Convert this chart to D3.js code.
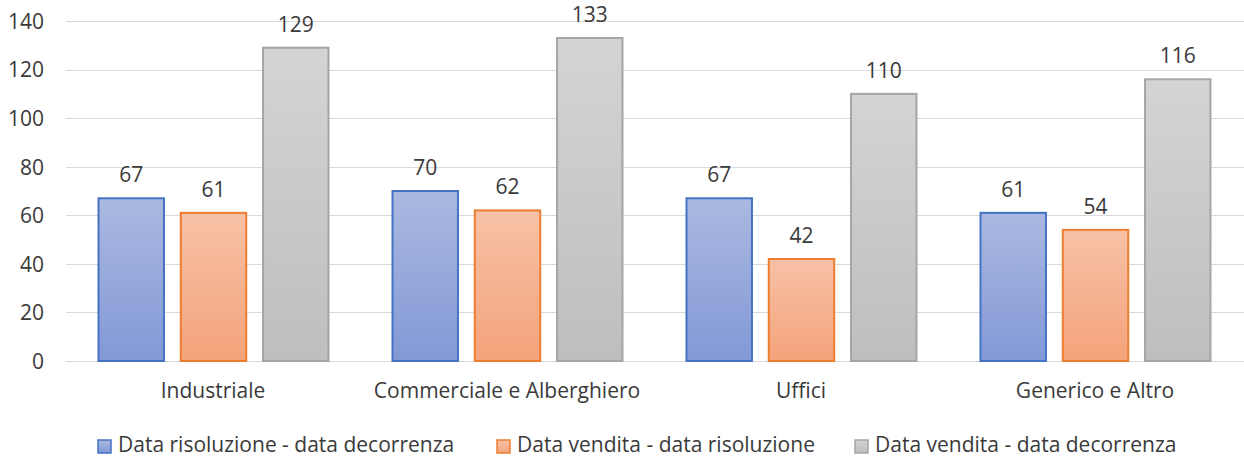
<!DOCTYPE html>
<html>
<head>
<meta charset="utf-8">
<script src="https://cdn.jsdelivr.net/npm/d3@7"></script>
<style>
  html, body { margin: 0; padding: 0; background: #fff; }
  svg { display: block; font-family: "Open Sans", Lato, sans-serif; }
</style>
</head>
<body>
<svg id="chart" width="1244" height="457"></svg>
<script>
const categories = ["Industriale", "Commerciale e Alberghiero", "Uffici", "Generico e Altro"];
const seriesNames = ["Data risoluzione - data decorrenza", "Data vendita - data risoluzione", "Data vendita - data decorrenza"];
const risoluzioneDecorrenza = [67, 70, 67, 61];
const venditaRisoluzione = [61, 62, 42, 54];
const venditaDecorrenza = [129, 133, 110, 116];
const yTicks = [0, 20, 40, 60, 80, 100, 120, 140];

const seriesValues = [risoluzioneDecorrenza, venditaRisoluzione, venditaDecorrenza];
const styles = [
  { top: "#abb9e1", bottom: "#8299d6", stroke: "#4472c4" },
  { top: "#f7c1a6", bottom: "#f4a37b", stroke: "#ed7d31" },
  { top: "#d4d4d4", bottom: "#bebebe", stroke: "#a5a5a5" }
];
const textColor = "#3a3a3a";
const fontSize = 21;

const svg = d3.select("#chart");
const margin = { left: 66, right: 0, top: 21, bottom: 96 };
const width = 1244, height = 457;

const x0 = d3.scaleBand().domain(categories).range([margin.left, width - margin.right - 2]).paddingInner(0).paddingOuter(0);
const x1 = d3.scaleBand().domain(d3.range(3)).range([31.5, x0.bandwidth() - 30.5]).paddingInner(0.18).paddingOuter(0);
const y = d3.scaleLinear().domain([0, 140]).range([height - margin.bottom, margin.top]);

// vertical gradients for the bar fills
const defs = svg.append("defs");
styles.forEach((s, i) => {
  const g = defs.append("linearGradient").attr("id", "grad" + i).attr("x1", 0).attr("y1", 0).attr("x2", 0).attr("y2", 1);
  g.append("stop").attr("offset", "0%").attr("stop-color", s.top);
  g.append("stop").attr("offset", "100%").attr("stop-color", s.bottom);
});

// horizontal gridlines
svg.append("g")
  .selectAll("line").data(yTicks).join("line")
  .attr("x1", margin.left).attr("x2", width)
  .attr("y1", d => Math.round(y(d)) + 0.5).attr("y2", d => Math.round(y(d)) + 0.5)
  .attr("stroke", "#d9d9d9").attr("stroke-width", 1);

// y axis labels
const yAxis = svg.append("g").attr("transform", `translate(${margin.left - 22},0)`)
  .call(d3.axisLeft(y).tickValues(yTicks).tickSize(0).tickPadding(0));
yAxis.select(".domain").remove();
yAxis.selectAll("text").attr("font-size", fontSize).attr("fill", textColor)
  .attr("font-family", "'Open Sans', Lato, sans-serif").attr("dy", "0.35em");

// bars with value labels
const groups = svg.append("g").selectAll("g").data(categories).join("g")
  .attr("transform", d => `translate(${x0(d)},0)`);

groups.each(function(cat, ci) {
  const g = d3.select(this);
  seriesValues.forEach((vals, si) => {
    const v = vals[ci];
    g.append("rect")
      .attr("x", x1(si) + 1)
      .attr("y", y(v))
      .attr("width", x1.bandwidth() - 2)
      .attr("height", y(0) - y(v))
      .attr("fill", `url(#grad${si})`)
      .attr("stroke", styles[si].stroke)
      .attr("stroke-width", 2);
    g.append("text")
      .attr("x", x1(si) + x1.bandwidth() / 2)
      .attr("y", y(v) - 16)
      .attr("text-anchor", "middle")
      .attr("font-size", fontSize)
      .attr("fill", textColor)
      .text(v);
  });
});

// category labels
const xAxis = svg.append("g").attr("transform", `translate(0,${y(0)})`)
  .call(d3.axisBottom(x0).tickSize(0).tickPadding(0));
xAxis.select(".domain").remove();
xAxis.selectAll("text").attr("font-size", fontSize).attr("fill", textColor)
  .attr("font-family", "'Open Sans', Lato, sans-serif").attr("dy", 37);

// legend
const legendX = [97, 496, 854];
const legend = svg.append("g").selectAll("g").data(seriesNames).join("g")
  .attr("transform", (d, i) => `translate(${legendX[i]},439)`);
legend.append("rect")
  .attr("x", 1).attr("y", 1).attr("width", 13).attr("height", 13)
  .attr("fill", (d, i) => `url(#grad${i})`)
  .attr("stroke", (d, i) => styles[i].stroke).attr("stroke-width", 1.5);
legend.append("text")
  .attr("x", 21).attr("y", 13)
  .attr("font-size", fontSize).attr("fill", textColor)
  .text(d => d);
</script>
</body>
</html>
